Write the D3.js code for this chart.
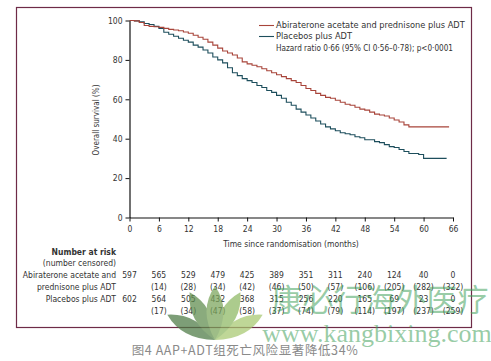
<!DOCTYPE html>
<html>
<head>
<meta charset="utf-8">
<script src="https://cdn.jsdelivr.net/npm/d3@7"></script>
<style>
body { margin:0; background:#fff; }
svg text { font-family: "Liberation Sans Narrow", "DejaVu Sans Condensed", "Liberation Sans", sans-serif; }
</style>
</head>
<body>
<svg width="491" height="361"></svg>
<script>
// KM curves (month, % alive)
var aapMonths = [0,1,2,3,4,5,6,7,8,9,10,11,12,13,14,15,16,17,18,19,20,21,22,23,24,25,26,27,28,29,30,31,32,33,34,35,36,37,38,39,40,41,42,43,44,45,46,47,48,49,50,51,52,53,54,55,56,57,65.2];
var aapSurv   = [100,99.8,99,97.5,97,96.8,96.5,96,95.5,95.2,94.8,94.2,93.5,92.5,91.5,90.5,89,87.5,86,84.5,83.5,82.5,81,79,78,77.3,76.5,75.5,74.5,73.5,72.5,71.5,70.5,69.5,68.5,67,65.5,64.5,63,62,61,60.5,59.5,58.5,57.5,57,56,55,54.5,53.5,52.5,52,51.5,50.5,49.5,48.5,47,46,46];
var pboMonths = [0,1,2,3,4,5,6,7,8,9,10,11,12,13,14,15,16,17,18,19,20,21,22,23,24,25,26,27,28,29,30,31,32,33,34,35,36,37,38,39,40,41,42,43,44,45,46,47,48,49,50,51,52,53,54,55,56,57,58,59,60,64.7];
var pboSurv   = [100,99.8,99.3,98.5,98,97,96,94,93,92,91,90,89,87.5,86.5,85,83.5,81.5,80,78.5,76,73.5,72,70.5,69.5,68.5,67,66,64.5,63.5,62,60.5,58.5,57,55,53.5,52,50.5,49,47.5,46,45,44,43,42.5,42,41,40.5,39.5,39.5,38.5,38,37,36,35.5,34.5,33.5,32.5,32.5,32,30,30];

var xTicks = [0,6,12,18,24,30,36,42,48,54,60,66];
var yTicks = [0,20,40,60,80,100];

var aapRisk = ["597","565","529","479","425","389","351","311","240","124","40","0"];
var aapCens = ["","(14)","(28)","(34)","(42)","(46)","(50)","(57)","(106)","(205)","(282)","(322)"];
var pboRisk = ["602","564","505","432","368","315","256","220","165","69","23","0"];
var pboCens = ["","(17)","(34)","(47)","(58)","(37)","(74)","(79)","(114)","(197)","(237)","(259)"];

var aapName = "Abiraterone acetate and prednisone plus ADT";
var pboName = "Placebos plus ADT";
var hrText = "Hazard ratio 0\u00b766 (95% CI 0\u00b756\u20130\u00b778); p<0\u00b70001";

var RED = "#a8443a", BLUE = "#1d4e5c", INK = "#333";

var svg = d3.select("svg");

// frame
svg.append("rect").attr("x",16.5).attr("y",7.5).attr("width",455).attr("height",320)
   .attr("fill","none").attr("stroke","#6e2b47").attr("stroke-width",1.2);

var x = d3.scaleLinear().domain([0,66]).range([129.5,453]);
var y = d3.scaleLinear().domain([0,100]).range([217.5,20.5]);

var g = svg.append("g");

var xAxis = g.append("g").attr("transform","translate(0,"+y(0)+")")
   .call(d3.axisBottom(x).tickValues(xTicks).tickSize(4).tickSizeOuter(0));
var yAxis = g.append("g").attr("transform","translate("+x(0)+",0)")
   .call(d3.axisLeft(y).tickValues(yTicks).tickSize(4).tickSizeOuter(0));
[xAxis,yAxis].forEach(function(a){
  a.select(".domain").attr("stroke","#111").attr("stroke-width",1.2);
  a.selectAll(".tick line").attr("stroke","#111");
  a.selectAll(".tick text").attr("fill",INK).style("font-size","8.5px");
});
xAxis.selectAll(".tick text").attr("dy","0.9em");

g.append("text").attr("transform","translate(96,120) rotate(-90)")
 .attr("text-anchor","middle").attr("dominant-baseline","middle")
 .style("font-size","8px").attr("fill",INK).text("Overall survival (%)");
g.append("text").attr("x",291).attr("y",244).attr("text-anchor","middle")
 .attr("dominant-baseline","middle").style("font-size","8.5px").attr("fill",INK)
 .text("Time since randomisation (months)");

var line = d3.line().x(function(d){return x(d[0]);}).y(function(d){return y(d[1]);})
  .curve(d3.curveStepAfter);

function series(m, s){ return m.map(function(v,i){ return [v, s[i]]; }); }

g.append("path").datum(series(pboMonths,pboSurv)).attr("d",line)
 .attr("fill","none").attr("stroke",BLUE).attr("stroke-width",1.1);
g.append("path").datum(series(aapMonths,aapSurv)).attr("d",line)
 .attr("fill","none").attr("stroke",RED).attr("stroke-width",1.1);

// legend
var leg = [[aapName,RED],[pboName,BLUE]];
leg.forEach(function(l,i){
  var yy = 25.5 + i*11;
  g.append("line").attr("x1",259).attr("x2",274).attr("y1",yy).attr("y2",yy)
   .attr("stroke",l[1]).attr("stroke-width",1.1);
  g.append("text").attr("x",276).attr("y",yy).attr("dominant-baseline","middle")
   .style("font-size","9.2px").attr("fill",INK).text(l[0]);
});
g.append("text").attr("x",276).attr("y",48.5).attr("dominant-baseline","middle")
 .style("font-size","9px").attr("fill",INK)
 .attr("textLength",177).attr("lengthAdjust","spacingAndGlyphs").text(hrText);

// number at risk table
var tbl = svg.append("g").style("font-size","8.5px").attr("fill",INK);
tbl.append("text").attr("x",116).attr("y",252).attr("text-anchor","end")
   .attr("dominant-baseline","middle").style("font-weight","bold").text("Number at risk");
tbl.append("text").attr("x",116).attr("y",263).attr("text-anchor","end")
   .attr("dominant-baseline","middle").text("(number censored)");
[["Abiraterone acetate and",275],["prednisone plus ADT",287],["Placebos plus ADT",299]].forEach(function(r){
  tbl.append("text").attr("x",116).attr("y",r[1]).attr("text-anchor","end")
     .attr("dominant-baseline","middle").text(r[0]);
});
[[aapRisk,275],[aapCens,287],[pboRisk,299],[pboCens,311]].forEach(function(r){
  tbl.selectAll(null).data(r[0]).enter().append("text")
     .attr("x",function(d,i){ return x(xTicks[i]); }).attr("y",r[1])
     .attr("text-anchor","middle").attr("dominant-baseline","middle").text(function(d){return d;});
});

// watermark logo (lotus petals)
var petals = [[-62,"#4c7a44",15],[62,"#a7c870",15],[-28,"#5e8c4c",16],[28,"#8db862",16],[0,"#7aa55a",17]];
var logo = svg.append("g").attr("transform","translate(215,340)").attr("opacity",0.72);
petals.forEach(function(p){
  var L = 54, w = p[2];
  logo.append("path").attr("transform","rotate("+p[0]+")")
      .attr("d","M0,0 Q"+w+","+(-L*0.55)+" 0,"+(-L)+" Q"+(-w)+","+(-L*0.55)+" 0,0Z")
      .attr("fill",p[1]);
});

// watermark text
svg.append("text").attr("x",380).attr("y",303).attr("text-anchor","middle")
   .attr("dominant-baseline","middle").style("font-family","'Noto Sans CJK SC', sans-serif")
   .style("font-size","31px").attr("fill","#3fa05a").attr("fill-opacity",0.55).text("康必行海外医疗");
svg.append("text").attr("x",377).attr("y",336).attr("text-anchor","middle")
   .attr("dominant-baseline","middle").style("font-family","'Liberation Serif', serif")
   .style("font-size","26px").attr("fill","#3fa05a").attr("fill-opacity",0.55).text("www.kangbixing.com");

// caption
svg.append("text").attr("x",245).attr("y",352).attr("text-anchor","middle")
   .attr("dominant-baseline","middle").style("font-family","'Noto Sans CJK SC', sans-serif")
   .style("font-size","12.5px").style("letter-spacing","0.6px").attr("fill","#8a8a8a")
   .text("图4 AAP+ADT组死亡风险显著降低34%");
</script>
</body>
</html>
